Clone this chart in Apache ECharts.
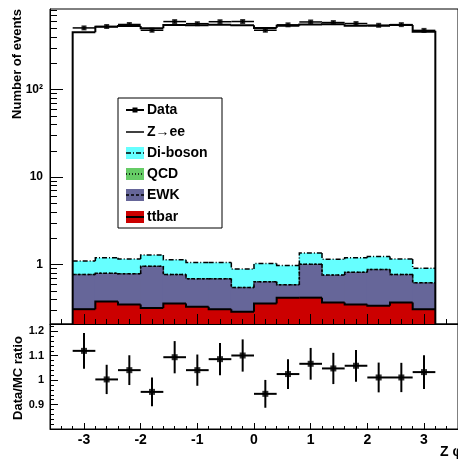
<!DOCTYPE html>
<html><head><meta charset="utf-8">
<script src="https://cdn.jsdelivr.net/npm/echarts@6/dist/echarts.min.js"></script>
<style>html,body{margin:0;padding:0;background:#fff}#c{width:458px;height:459px}</style>
</head><body><div id="c"></div>
<script>
// ---- data ----
const binCenters = [-3.0,-2.6,-2.2,-1.8,-1.4,-1.0,-0.6,-0.2,0.2,0.6,1.0,1.4,1.8,2.2,2.6,3.0];
const binHalfWidth = 0.2;
const ttbar   = [0.31,0.38,0.35,0.32,0.36,0.33,0.31,0.29,0.36,0.42,0.42,0.37,0.35,0.34,0.37,0.31];
const ewk     = [0.46,0.42,0.44,0.64,0.41,0.36,0.38,0.26,0.28,0.17,0.59,0.39,0.47,0.54,0.40,0.31];
const qcd     = [0,0,0,0,0,0,0,0,0,0,0,0,0,0,0,0];
const diboson = [0.33,0.40,0.37,0.33,0.37,0.37,0.37,0.34,0.39,0.39,0.35,0.39,0.38,0.36,0.39,0.29];
const zee     = [451,522,532,500,546,544,549,544,504,536,554,556,536,536,546,458];
const dataCounts = [507,526,555,477,599,567,597,600,477,550,593,584,569,543,553,475];
const dataErr    = [23,23,24,22,24,24,24,24,22,23,24,24,24,23,24,22];
const ratio    = [1.12,1.003,1.041,0.952,1.094,1.041,1.086,1.101,0.944,1.025,1.067,1.048,1.059,1.011,1.011,1.033];
const ratioErr = [0.073,0.060,0.061,0.059,0.066,0.064,0.066,0.066,0.057,0.061,0.065,0.064,0.065,0.061,0.060,0.069];
const xTickValues = [-3,-2,-1,0,1,2,3];
const xTickLabels = ['-3','-2','-1','0','1','2','3'];
const yLogTickValues = [1,10,100];
const yLogTickLabels = ['1','10','10²'];
const ratioTickValues = [0.9,1.0,1.1,1.2];
const ratioTickLabels = ['0.9','1','1.1','1.2'];
const legendNames = ['Data','Z→ee','Di-boson','QCD','EWK','ttbar'];

// ---- styling / ranges ----
const X_MIN=-3.6, X_MAX=3.6, Y_MIN=0.21, Y_MAX=834, R_MIN=0.8, R_MAX=1.23;
const FONT = 'Liberation Sans, Arial, sans-serif';
const C_CYAN='#66ffff', C_GREEN='#66cc66', C_PURPLE='#666699', C_RED='#cc0000';

let run = binCenters.map(()=>0);
function addLayer(arr){ run = run.map((v,i)=>v+arr[i]); return run.slice(); }
const cTt = addLayer(ttbar), cEwk = addLayer(ewk), cQcd = addLayer(qcd), cDib = addLayer(diboson), cZ = addLayer(zee);

const minorX = []; for (let k=-17;k<=17;k++){ if (k%5!==0) minorX.push(+(k*0.2).toFixed(2)); }
const minorLog = [];
for (let d=-1; d<=2; d++) for (let m=2;m<=9;m++){ const v=m*Math.pow(10,d); if (v>Y_MIN && v<Y_MAX) minorLog.push(Math.log10(v)); }
const minorR = []; for (let k=41;k<=61;k++){ if (k%5!==0) minorR.push(+(k*0.02).toFixed(2)); }

function lookup(vals, labels){ return v => { const i = vals.findIndex(t => Math.abs(t-v) < 1e-6*Math.max(1,Math.abs(t))); return i>=0 ? labels[i] : ''; }; }

function fillSeries(upper, color, z){
  return {
    type:'custom', xAxisIndex:0, yAxisIndex:0, z:z, silent:true, clip:false,
    data: binCenters.map((x,i)=>[x, upper[i]]),
    encode:{x:0,y:1},
    renderItem:(params, api)=>{
      const x=api.value(0), hi=api.value(1);
      const a=api.coord([x-binHalfWidth, hi]);
      const b=api.coord([x+binHalfWidth, Y_MIN]);
      return {type:'rect', shape:{x:a[0]-0.5, y:a[1], width:b[0]-a[0]+1, height:b[1]-a[1]}, style:{fill:color}};
    }
  };
}
function outlineSeries(upper, dash, width, outer, z){
  return {
    type:'custom', xAxisIndex:0, yAxisIndex:0, z:z, silent:true, clip:false,
    data: binCenters.map((x,i)=>[x, upper[i], i>0?upper[i-1]:upper[i]]),
    encode:{x:0,y:1},
    renderItem:(params, api)=>{
      const i=params.dataIndex, x=api.value(0), hi=api.value(1), prev=api.value(2);
      const pts=[];
      if (i===0) { if (outer) pts.push(api.coord([x-binHalfWidth, Y_MIN])); }
      else pts.push(api.coord([x-binHalfWidth, prev]));
      pts.push(api.coord([x-binHalfWidth, hi]));
      pts.push(api.coord([x+binHalfWidth, hi]));
      if (outer && i===binCenters.length-1) pts.push(api.coord([x+binHalfWidth, Y_MIN]));
      return {type:'polyline', shape:{points:pts}, style:{stroke:'#000', lineWidth:width, lineDash:dash, fill:null}};
    }
  };
}
function errSeries(xi, yi, vals, errs, width, z){
  return {
    type:'custom', xAxisIndex:xi, yAxisIndex:yi, z:z, silent:true, clip:false,
    data: binCenters.map((x,i)=>[x, vals[i], errs[i]]),
    encode:{x:0,y:1},
    renderItem:(params, api)=>{
      const x=api.value(0), y=api.value(1), e=api.value(2);
      const h1=api.coord([x-binHalfWidth,y]), h2=api.coord([x+binHalfWidth,y]);
      const v1=api.coord([x,y-e]), v2=api.coord([x,y+e]);
      return {type:'group', children:[
        {type:'line', shape:{x1:h1[0],y1:h1[1],x2:h2[0],y2:h2[1]}, style:{stroke:'#000', lineWidth:width}},
        {type:'line', shape:{x1:v1[0],y1:v1[1],x2:v2[0],y2:v2[1]}, style:{stroke:'#000', lineWidth:width}}
      ]};
    }
  };
}

const axisBase = {type:'value', splitLine:{show:false}, axisLine:{show:false, onZero:false}, axisLabel:{show:false}};
function line(){ return {show:true, onZero:false, lineStyle:{color:'#000', width:1}}; }
const option = {
  animation:false,
  backgroundColor:'#fff',
  grid:[
    {left:50, top:9, width:408, height:315, show:true, borderColor:'#000', borderWidth:1, backgroundColor:'transparent'},
    {left:50, top:324, width:408, height:105, show:true, borderColor:'#000', borderWidth:1, backgroundColor:'transparent'}
  ],
  xAxis:[
    Object.assign({}, axisBase, {gridIndex:0, position:'bottom', min:X_MIN, max:X_MAX, z:5,
      axisLine:line(),
      axisTick:{show:true, inside:true, length:10, customValues:xTickValues, lineStyle:{color:'#000', width:1}}}),
    Object.assign({}, axisBase, {gridIndex:0, position:'bottom', min:X_MIN, max:X_MAX, z:5,
      axisTick:{show:true, inside:true, length:5, customValues:minorX, lineStyle:{color:'#000', width:1}}}),
    Object.assign({}, axisBase, {gridIndex:1, position:'bottom', min:X_MIN, max:X_MAX, z:5,
      axisLine:line(),
      axisTick:{show:true, inside:true, length:6, customValues:xTickValues, lineStyle:{color:'#000', width:1}},
      axisLabel:{show:true, customValues:xTickValues, formatter:lookup(xTickValues,xTickLabels), margin:4,
        color:'#000', fontFamily:FONT, fontWeight:'bold', fontSize:14}}),
    Object.assign({}, axisBase, {gridIndex:1, position:'bottom', min:X_MIN, max:X_MAX, z:5,
      axisTick:{show:true, inside:true, length:3, customValues:minorX, lineStyle:{color:'#000', width:1}}})
  ],
  yAxis:[
    {gridIndex:0, type:'log', logBase:10, position:'left', min:Y_MIN, max:Y_MAX, z:5,
      splitLine:{show:false},
      axisLine:line(),
      axisTick:{show:true, inside:true, length:13, lineStyle:{color:'#000', width:1}},
      axisLabel:{show:true, showMinLabel:false, showMaxLabel:false, formatter:lookup(yLogTickValues,yLogTickLabels), margin:7,
        color:'#000', fontFamily:FONT, fontWeight:'bold', fontSize:12}},
    Object.assign({}, axisBase, {gridIndex:0, position:'left', min:Math.log10(Y_MIN), max:Math.log10(Y_MAX), z:5,
      axisTick:{show:true, inside:true, length:7, customValues:minorLog, lineStyle:{color:'#000', width:1}}}),
    Object.assign({}, axisBase, {gridIndex:1, position:'left', min:R_MIN, max:R_MAX, z:5,
      axisLine:line(),
      axisTick:{show:true, inside:true, length:8, customValues:ratioTickValues, lineStyle:{color:'#000', width:1}},
      axisLabel:{show:true, customValues:ratioTickValues, formatter:lookup(ratioTickValues,ratioTickLabels), margin:6,
        color:'#000', fontFamily:FONT, fontWeight:'bold', fontSize:11}}),
    Object.assign({}, axisBase, {gridIndex:1, position:'left', min:R_MIN, max:R_MAX, z:5,
      axisTick:{show:true, inside:true, length:4, customValues:minorR, lineStyle:{color:'#000', width:1}}})
  ],
  series:[
    fillSeries(cZ, '#ffffff', 2),
    fillSeries(cDib, C_CYAN, 2),
    fillSeries(cQcd, C_GREEN, 2),
    fillSeries(cEwk, C_PURPLE, 2),
    fillSeries(cTt, C_RED, 2),
    outlineSeries(cDib, [5,2,1,2], 1.5, false, 3),
    outlineSeries(cQcd, [1,2], 1.5, false, 3),
    outlineSeries(cEwk, [3,2], 1.5, false, 3),
    outlineSeries(cTt, null, 2, false, 3),
    outlineSeries(cZ, null, 2, true, 4),
    errSeries(0, 0, dataCounts, dataErr, 1.5, 6),
    {type:'scatter', xAxisIndex:0, yAxisIndex:0, z:7, silent:true, symbol:'rect', symbolSize:5,
      itemStyle:{color:'#000'}, data: binCenters.map((x,i)=>[x, dataCounts[i]])},
    errSeries(2, 2, ratio, ratioErr, 2, 6),
    {type:'scatter', xAxisIndex:2, yAxisIndex:2, z:7, silent:true, symbol:'rect', symbolSize:6,
      itemStyle:{color:'#000'}, data: binCenters.map((x,i)=>[x, ratio[i]])}
  ],
  graphic:[]
};

// axis titles
option.graphic.push({type:'text', x:17, y:64, rotation:Math.PI/2, z:100,
  style:{text:'Number of events', font:'bold 13px '+FONT, fill:'#000', align:'center', verticalAlign:'middle'}});
option.graphic.push({type:'text', x:18, y:378, rotation:Math.PI/2, z:100,
  style:{text:'Data/MC ratio', font:'bold 13px '+FONT, fill:'#000', align:'center', verticalAlign:'middle'}});
option.graphic.push({type:'text', x:440, y:452, z:100,
  style:{text:'Z φ', font:'bold 14px '+FONT, fill:'#000', align:'left', verticalAlign:'middle'}});

// legend
const LX=118, LY=98, LW=104, LH=130;
option.graphic.push({type:'rect', z:100, shape:{x:LX, y:LY, width:LW, height:LH}, style:{fill:'#fff', stroke:'#000', lineWidth:1}});
const legendY = [110,132,153,174,195,217];
const legFill = [null, null, C_CYAN, C_GREEN, C_PURPLE, C_RED];
const legDash = [null, null, [5,2,1,2], [1,2], [3,2], null];
const legW = [2, 1.5, 1.5, 1.5, 1.5, 2];
legendNames.forEach((name,i)=>{
  const y = legendY[i];
  if (legFill[i]) option.graphic.push({type:'rect', z:101, shape:{x:126, y:y-6, width:18, height:12}, style:{fill:legFill[i]}});
  option.graphic.push({type:'line', z:102, shape:{x1:126, y1:y, x2:144, y2:y}, style:{stroke:'#000', lineWidth:legW[i], lineDash:legDash[i]}});
  if (i===0) option.graphic.push({type:'rect', z:103, shape:{x:132.5, y:y-2.5, width:5, height:5}, style:{fill:'#000'}});
  option.graphic.push({type:'text', z:103, x:147, y:y,
    style:{text:name, font:'bold 14px '+FONT, fill:'#000', align:'left', verticalAlign:'middle'}});
});

const chart = echarts.init(document.getElementById('c'), null, {renderer:'canvas'});
chart.setOption(option);
</script>
</body></html>
